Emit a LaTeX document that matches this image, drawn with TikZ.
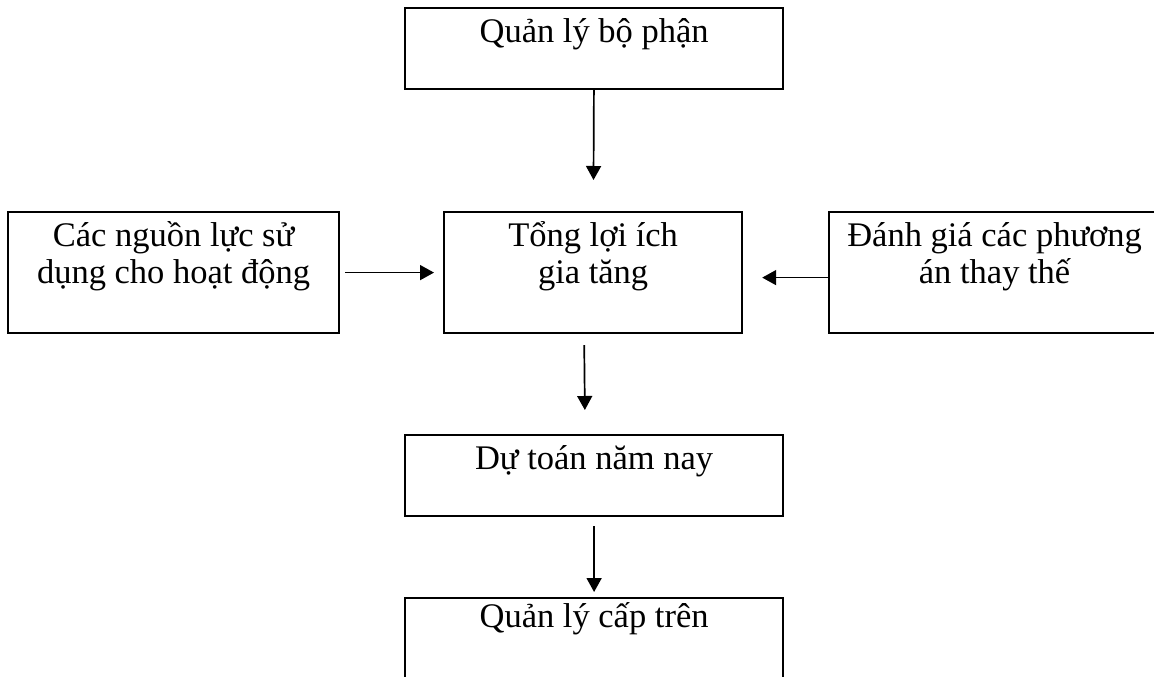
\documentclass[tikz,border=0pt]{standalone}
\usepackage{fontspec}
\setmainfont{Liberation Serif}
\usetikzlibrary{arrows.meta, positioning}

\tikzset{
  blk/.style={draw, line width=2.2pt, inner sep=0pt, anchor=north west, align=flush center,
    text height=34pt, font=\fontsize{34.5pt}{37.5pt}\selectfont},
  arr/.style={line width=1.7pt, -{Triangle[length=14pt, width=15pt]}}
}

\begin{document}
\begin{tikzpicture}[x=1pt, y=-1pt]
      \path[use as bounding box, clip] (0, 0) rectangle (1154, 677);

      \node[blk, text width=378pt, text depth=47pt] (bp) at (404, 7) {Quản lý bộ phận};
      \node[blk, text width=331pt, text depth=87pt] (nl) at (7, 211) {Các nguồn lực sử\\dụng cho hoạt động};
      \node[blk, text width=298pt, text depth=87pt] (tl) at (443, 211) {Tổng lợi ích\\gia tăng};
      \node[blk, text width=331pt, text depth=87pt] (pa) at (828, 211) {Đánh giá các phương\\án thay thế};
      \node[blk, text width=378pt, text depth=47pt] (dt) at (404, 434) {Dự toán năm nay};
      \node[blk, text width=378pt, text height=29pt, text depth=52pt] (ct) at (404, 597) {Quản lý cấp trên};

      \draw[arr, shorten >=31pt] (bp) -- (tl);
      \draw[arr, shorten <=5pt, shorten >=9pt] (nl) -- (tl);
      \draw[arr, shorten >=19pt] ([yshift=-5pt]pa.west) -- ([yshift=-5pt]tl.east);
      \draw[arr, shorten <=11pt, shorten >=24pt] ([xshift=-9pt]tl.south) -- ([xshift=-9pt]dt.north);
      \draw[arr, shorten <=9pt, shorten >=5pt] (dt) -- (ct);

\end{tikzpicture}
\end{document}
